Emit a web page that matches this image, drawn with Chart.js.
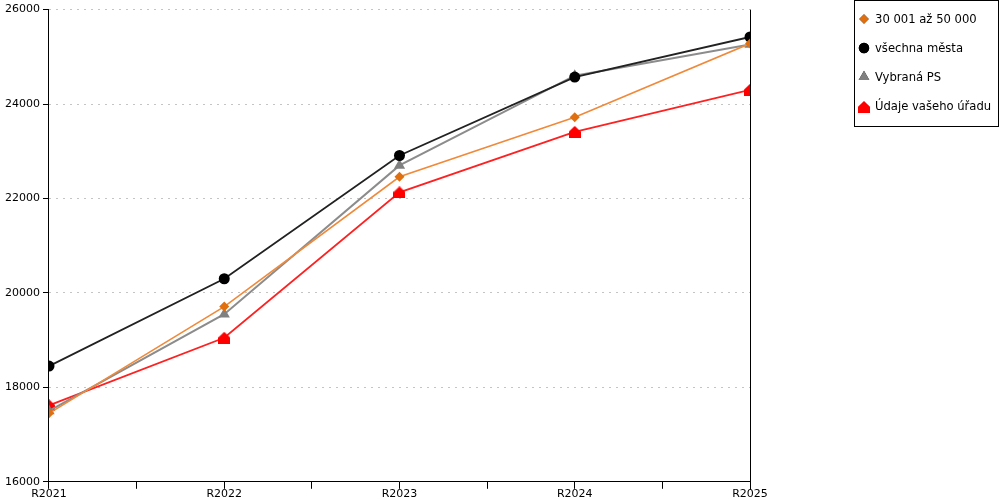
<!DOCTYPE html>
<html>
<head>
<meta charset="utf-8">
<script src="https://cdn.jsdelivr.net/npm/chart.js@4/dist/chart.umd.min.js"></script>
<style>
    body { margin: 0; background: #fff; }
    #wrap { position: relative; width: 1000px; height: 500px; }
    #legend {
        position: absolute; left: 854px; top: 0px; width: 145px; height: 127px;
        border: 1px solid #000; box-sizing: border-box; background: #fff;
        font-family: "DejaVu Sans", Verdana, sans-serif; font-size: 11.6px; color: #000;
        padding-top: 11px;
    }
    #legend div { height: 29px; display: flex; align-items: flex-start; padding-left: 2px; }
    #legend canvas { margin-right: 4px; margin-top: 0px; }
</style>
</head>
<body>
<div id="wrap">
    <canvas id="chart" width="1000" height="500"></canvas>
    <div id="legend"></div>
</div>
<script>
const categories = ["R2021", "R2022", "R2023", "R2024", "R2025"];
const seriesNames = ["30 001 až 50 000", "všechna města", "Vybraná PS", "Údaje vašeho úřadu"];
const valsKategorie = [17450, 19710, 22460, 23720, 25280];
const valsVsechna = [18450, 20300, 22910, 24570, 25420];
const valsVybrana = [17500, 19550, 22700, 24600, 25260];
const valsUrad = [17620, 19050, 22130, 23410, 24300];
const yTicks = [16000, 18000, 20000, 22000, 24000, 26000];

// red "house" marker
function houseMarker(size, color) {
    const c = document.createElement("canvas");
    c.width = size; c.height = size;
    const g = c.getContext("2d");
    g.fillStyle = color;
    g.beginPath();
    g.moveTo(size / 2, 0);
    g.lineTo(size, size * 0.48);
    g.lineTo(size, size);
    g.lineTo(0, size);
    g.lineTo(0, size * 0.48);
    g.closePath();
    g.fill();
    return c;
}
const house = houseMarker(12, "#ff0000");

function pts(vals) {
    return vals.map((v, i) => ({ x: i, y: v }));
}

const datasets = [
    { label: seriesNames[0], data: pts(valsKategorie), borderColor: "#f08a3a", backgroundColor: "#e0700f",
      borderWidth: 1.6, pointStyle: "rectRot", pointRadius: 5, pointBorderWidth: 0 },
    { label: seriesNames[1], data: pts(valsVsechna), borderColor: "#222222", backgroundColor: "#000000",
      borderWidth: 1.8, pointStyle: "circle", pointRadius: 5.5, pointBorderWidth: 0 },
    { label: seriesNames[2], data: pts(valsVybrana), borderColor: "#8c8c8c", backgroundColor: "#808080",
      borderWidth: 2, pointStyle: "triangle", pointRadius: 6.5, pointBorderWidth: 0 },
    { label: seriesNames[3], data: pts(valsUrad), borderColor: "#ff2020", backgroundColor: "#ff0000",
      borderWidth: 1.8, pointStyle: house, pointRadius: 6, pointBorderWidth: 0 }
];

const rightLine = {
    id: "rightLine",
    afterDraw(chart) {
        const a = chart.chartArea, ctx = chart.ctx;
        ctx.save();
        ctx.strokeStyle = "#000";
        ctx.lineWidth = 1;
        ctx.beginPath();
        ctx.moveTo(Math.round(a.right) + 0.5, a.top);
        ctx.lineTo(Math.round(a.right) + 0.5, a.bottom + 8);
        ctx.stroke();
        ctx.restore();
    }
};

Chart.defaults.font.family = '"DejaVu Sans", Verdana, sans-serif';
Chart.defaults.font.size = 11;
Chart.defaults.color = "#000";

new Chart(document.getElementById("chart"), {
    type: "line",
    data: { datasets: datasets },
    options: {
        responsive: false,
        animation: false,
        layout: { padding: { left: 2, right: 250, top: 6, bottom: 0 } },
        plugins: { legend: { display: false }, tooltip: { enabled: false } },
        elements: { line: { tension: 0 } },
        scales: {
            x: {
                type: "linear", min: 0, max: categories.length - 1,
                afterBuildTicks: axis => {
                    axis.ticks = [];
                    for (let v = 0; v <= categories.length - 1; v += 0.5) axis.ticks.push({ value: v });
                },
                ticks: {
                    autoSkip: false, maxRotation: 0, padding: -1,
                    callback: v => Number.isInteger(v) ? categories[v] : ""
                },
                grid: { drawOnChartArea: false, tickLength: 7, tickColor: "#000", color: "#000" },
                border: { color: "#000", width: 1 }
            },
            y: {
                min: 16000, max: 26000,
                afterBuildTicks: axis => { axis.ticks = yTicks.map(v => ({ value: v })); },
                ticks: { padding: 3, callback: v => String(v) },
                grid: { color: "#c4c4c4", tickColor: "#000", tickLength: 6, tickBorderDash: [] },
                border: { color: "#000", width: 1, dash: [2, 5] }
            }
        }
    },
    plugins: [rightLine]
});

// legend
const legend = document.getElementById("legend");
datasets.forEach(ds => {
    const row = document.createElement("div");
    const ic = document.createElement("canvas");
    ic.width = 14; ic.height = 14;
    const g = ic.getContext("2d");
    if (ds.pointStyle instanceof HTMLCanvasElement) {
        g.drawImage(ds.pointStyle, 1, 2);
    } else {
        Chart.helpers.drawPoint(g, { pointStyle: ds.pointStyle, radius: ds.pointRadius * 0.95, rotation: 0, borderWidth: 0 }, 7, 7);
        g.fillStyle = ds.backgroundColor;
        g.fill();
    }
    row.appendChild(ic);
    const t = document.createElement("span");
    t.textContent = ds.label;
    row.appendChild(t);
    legend.appendChild(row);
});
</script>
</body>
</html>
